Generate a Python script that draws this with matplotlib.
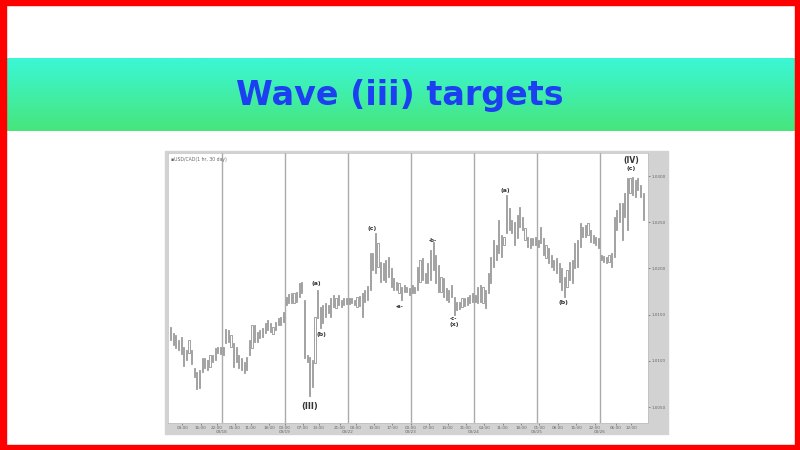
import numpy as np
import matplotlib.pyplot as plt
from matplotlib.patches import Rectangle
from matplotlib.colors import LinearSegmentedColormap

# hourly USD/CAD bars, one list per trading day
mar17_high = [1.0137, 1.0130, 1.0128, 1.0122, 1.0126, 1.0115, 1.0112, 1.0122, 1.0112, 1.0092,
              1.0088, 1.0090, 1.0103, 1.0103, 1.0101, 1.0106, 1.0106, 1.0114, 1.0115, 1.0115]
mar17_low = [1.0122, 1.0117, 1.0114, 1.0112, 1.0107, 1.0094, 1.0101, 1.0108, 1.0097, 1.0082,
             1.0069, 1.0071, 1.0088, 1.0092, 1.0090, 1.0093, 1.0099, 1.0101, 1.0108, 1.0107]

mar18_high = [1.0115, 1.0134, 1.0133, 1.0128, 1.0119, 1.0115, 1.0106, 1.0103, 1.0099, 1.0104, 1.0122, 1.0139,
              1.0139, 1.0131, 1.0133, 1.0135, 1.0141, 1.0144, 1.0141, 1.0137, 1.0142, 1.0146, 1.0147, 1.0153]
mar18_low = [1.0106, 1.0119, 1.0120, 1.0115, 1.0093, 1.0099, 1.0092, 1.0090, 1.0087, 1.0090, 1.0106, 1.0114,
             1.0120, 1.0120, 1.0125, 1.0126, 1.0130, 1.0133, 1.0131, 1.0129, 1.0133, 1.0139, 1.0139, 1.0142]

mar19_high = [1.0169, 1.0172, 1.0173, 1.0173, 1.0174, 1.0184, 1.0185, 1.0166, 1.0106, 1.0104, 1.0101, 1.0147,
              1.0177, 1.0158, 1.0160, 1.0163, 1.0160, 1.0168, 1.0171, 1.0168, 1.0171, 1.0166, 1.0168, 1.0168]
mar19_low = [1.0160, 1.0163, 1.0163, 1.0163, 1.0164, 1.0169, 1.0173, 1.0103, 1.0099, 1.0062, 1.0072, 1.0098,
             1.0146, 1.0135, 1.0141, 1.0147, 1.0152, 1.0147, 1.0158, 1.0157, 1.0160, 1.0158, 1.0160, 1.0161]

mar22_high = [1.0168, 1.0168, 1.0166, 1.0169, 1.0170, 1.0173, 1.0177, 1.0181, 1.0217, 1.0217, 1.0238, 1.0227,
              1.0207, 1.0206, 1.0209, 1.0212, 1.0200, 1.0190, 1.0185, 1.0184, 1.0180, 1.0182, 1.0180, 1.0179]
mar22_low = [1.0161, 1.0163, 1.0160, 1.0158, 1.0159, 1.0147, 1.0164, 1.0166, 1.0177, 1.0198, 1.0195, 1.0202,
             1.0185, 1.0187, 1.0185, 1.0191, 1.0180, 1.0177, 1.0177, 1.0173, 1.0166, 1.0174, 1.0174, 1.0171]

mar23_high = [1.0182, 1.0180, 1.0202, 1.0209, 1.0211, 1.0195, 1.0206, 1.0220, 1.0229, 1.0215, 1.0204, 1.0191,
              1.0190, 1.0179, 1.0177, 1.0182, 1.0169, 1.0164, 1.0164, 1.0168, 1.0168, 1.0169, 1.0171, 1.0173]
mar23_low = [1.0173, 1.0173, 1.0177, 1.0185, 1.0187, 1.0184, 1.0184, 1.0187, 1.0198, 1.0184, 1.0174, 1.0174,
             1.0169, 1.0166, 1.0164, 1.0169, 1.0150, 1.0155, 1.0156, 1.0158, 1.0159, 1.0160, 1.0163, 1.0164]

mar24_high = [1.0171, 1.0180, 1.0182, 1.0180, 1.0177, 1.0195, 1.0212, 1.0231, 1.0225, 1.0252, 1.0236, 1.0234,
              1.0279, 1.0265, 1.0252, 1.0250, 1.0258, 1.0266, 1.0256, 1.0244, 1.0234, 1.0233, 1.0233, 1.0234]
mar24_low = [1.0164, 1.0163, 1.0164, 1.0163, 1.0157, 1.0173, 1.0184, 1.0202, 1.0209, 1.0217, 1.0212, 1.0225,
             1.0238, 1.0242, 1.0238, 1.0225, 1.0233, 1.0245, 1.0242, 1.0231, 1.0223, 1.0222, 1.0225, 1.0225]

mar25_high = [1.0231, 1.0245, 1.0233, 1.0225, 1.0222, 1.0215, 1.0209, 1.0211, 1.0206, 1.0200, 1.0191, 1.0198,
              1.0207, 1.0209, 1.0227, 1.0231, 1.0249, 1.0245, 1.0247, 1.0249, 1.0242, 1.0236, 1.0234, 1.0233]
mar25_low = [1.0223, 1.0227, 1.0215, 1.0211, 1.0206, 1.0202, 1.0198, 1.0195, 1.0185, 1.0177, 1.0169, 1.0180,
             1.0187, 1.0184, 1.0200, 1.0202, 1.0223, 1.0234, 1.0234, 1.0236, 1.0229, 1.0227, 1.0225, 1.0222]

mar26_high = [1.0215, 1.0213, 1.0212, 1.0215, 1.0217, 1.0256, 1.0263, 1.0271, 1.0271, 1.0282, 1.0298, 1.0298,
              1.0299, 1.0296, 1.0298, 1.0290, 1.0282]
mar26_low = [1.0209, 1.0207, 1.0206, 1.0207, 1.0202, 1.0212, 1.0242, 1.0250, 1.0231, 1.0256, 1.0242, 1.0282,
             1.0279, 1.0277, 1.0285, 1.0277, 1.0252]

day_starts = [20.5, 44.5, 68.5, 92.5, 116.5, 140.5, 164.5]
date_labels = ['03/18', '03/19', '03/22', '03/23', '03/24', '03/25', '03/26']

hour_pos = [5.5, 12.5, 18.5, 25.5, 31.5, 38.5, 44.5, 51.5, 57.5, 65.5, 71.5, 78.5, 85.5,
            92.5, 99.5, 106.5, 113.5, 120.5, 127.5, 134.5, 141.5, 148.5, 155.5, 162.5, 170.5, 176.5]
hour_labels = ['09:00', '16:00', '22:00', '05:00', '11:00', '18:00', '00:00', '07:00', '13:00',
               '21:00', '03:00', '10:00', '17:00', '00:00', '07:00', '14:00', '21:00', '04:00',
               '11:00', '18:00', '01:00', '08:00', '15:00', '22:00', '06:00', '12:00']

price_ticks = [1.0050, 1.0100, 1.0150, 1.0200, 1.0250, 1.0300]

# elliott wave labels, where they sit on the chart
wave_labels = ['(III)', '(a)', '(b)', '(c)', '-a-', '-b-', '-c-', '(x)', '(a)', '(b)', '(c)', '(IV)']
wave_x = [53.8, 56.6, 58.6, 77.6, 88.4, 100.7, 108.7, 109.1, 128.4, 150.6, 176.6, 176.6]
wave_y = [1.0051, 1.0184, 1.0128, 1.0243, 1.0159, 1.0230, 1.0146, 1.0139, 1.0284, 1.0163, 1.0308, 1.0317]
wave_size = [6, 4.5, 4.5, 4.5, 3.8, 3.8, 3.8, 4.5, 4.5, 4.5, 4.5, 5.5]

title = 'Wave (iii) targets'

W, H = 800, 450


def fig_box(x0, y0, x1, y1):
    # pixel box (top-left origin) -> figure fraction [left, bottom, width, height]
    return [x0 / W, 1 - y1 / H, (x1 - x0) / W, (y1 - y0) / H]


fig = plt.figure(figsize=(8, 4.5), dpi=100)
fig.patch.set_facecolor('white')

# red frame round the slide
for edge in [(0, 0, 800, 5), (0, 445, 800, 450), (0, 0, 6, 450), (795, 0, 800, 450)]:
    b = fig_box(*edge)
    fig.add_artist(Rectangle((b[0], b[1]), b[2], b[3], transform=fig.transFigure,
                             color='#ff0000', zorder=10))

# green title band
band = fig.add_axes(fig_box(5, 58, 795, 131))
cmap = LinearSegmentedColormap.from_list('band', ['#3bf7d6', '#47e67c'])
band.imshow(np.linspace(0, 1, 64).reshape(-1, 1), cmap=cmap, aspect='auto')
band.axis('off')
fig.text(0.5, 1 - 95.5 / H, title, ha='center', va='center', fontsize=24,
         fontweight='bold', color='#1c3ff2', family='DejaVu Sans')

# grey frame of the chart picture
b = fig_box(165, 151, 668, 434)
fig.add_artist(Rectangle((b[0], b[1]), b[2], b[3], transform=fig.transFigure,
                         color='#d2d2d2', zorder=-1))

ax = fig.add_axes(fig_box(168, 153, 648, 423))
ax.set_facecolor('white')

highs = np.concatenate([mar17_high, mar18_high, mar19_high, mar22_high,
                        mar23_high, mar24_high, mar25_high, mar26_high])
lows = np.concatenate([mar17_low, mar18_low, mar19_low, mar22_low,
                       mar23_low, mar24_low, mar25_low, mar26_low])
x = np.arange(1, len(highs) + 1)

for d in day_starts:
    ax.axvline(d, color='#ababab', linewidth=1.0, zorder=1)

ax.bar(x, highs - lows, bottom=lows, width=0.45, fill=False,
       edgecolor='#7d7d7d', linewidth=0.5, zorder=2)

for lab, lx, ly, fs in zip(wave_labels, wave_x, wave_y, wave_size):
    ax.text(lx, ly, lab, ha='center', va='center', fontsize=fs,
            fontweight='bold', color='#333333', zorder=3)

ax.text(0.006, 0.985, '\u25aaUSD/CAD(1 hr, 30 day)', transform=ax.transAxes,
        ha='left', va='top', fontsize=3.3, color='#666666')

ax.set_xlim(0, 182.86)
ax.set_ylim(1.00327, 1.03249)

ax.yaxis.tick_right()
ax.set_yticks(price_ticks)
ax.set_yticklabels(['%.4f' % p for p in price_ticks])
ax.set_xticks(hour_pos)
ax.set_xticklabels(hour_labels)
ax.tick_params(axis='both', labelsize=3, colors='#666666', length=1.5, width=0.5, pad=1)

for d, lab in zip(day_starts, date_labels):
    ax.text(d, -0.034, lab, transform=ax.get_xaxis_transform(), ha='center', va='center',
            fontsize=3, color='#666666')

for s in ax.spines.values():
    s.set_color('#bdbdbd')
    s.set_linewidth(0.5)

fig.savefig('out.png', dpi=100)
